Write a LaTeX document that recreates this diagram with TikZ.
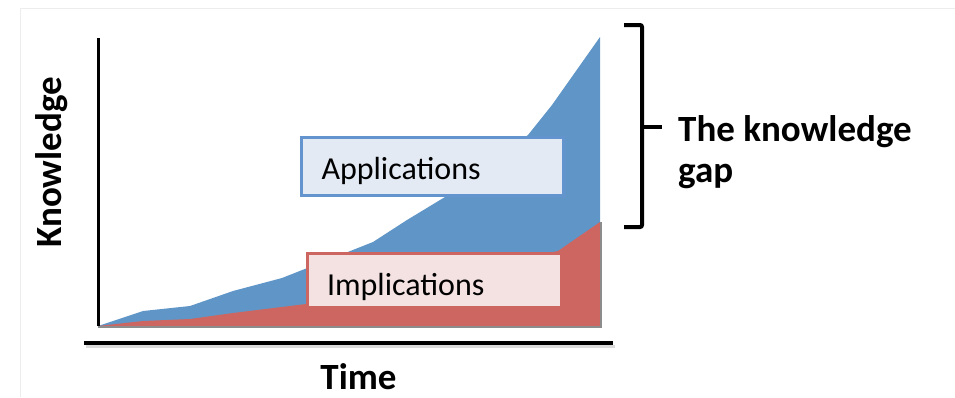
\documentclass[tikz,border=0pt]{standalone}
\usepackage{fontspec}
\setmainfont{Carlito}
\definecolor{appsblue}{RGB}{96,150,199}
\definecolor{appsborder}{RGB}{100,148,206}
\definecolor{appsfill}{RGB}{227,234,244}
\definecolor{implred}{RGB}{205,102,96}
\definecolor{implfill}{RGB}{244,226,226}
\tikzset{
	slideedge/.style={black!7,thin},%
	axisline/.style={line width=3pt},%
	xaxisline/.style={line width=4pt},%
	axisshadow/.style={black!14,line width=3pt},%
	areashadow/.style={black!45,line width=1.5pt},%
	appsarea/.style={fill=appsblue},%
	implarea/.style={fill=implred},%
	labelbox/.style={line width=3pt,align=left,inner ysep=0pt,text depth=6pt,font=\fontsize{32}{37}\selectfont},%
	appsbox/.style={labelbox,draw=appsborder,fill=appsfill,minimum width=262pt,minimum height=58pt,text width=222pt,inner xsep=20pt,text height=31pt},%
	implbox/.style={labelbox,draw=implred,fill=implfill,minimum width=254pt,minimum height=54pt,text width=215pt,inner xsep=19.5pt,text height=35pt},%
	axislabel/.style={inner sep=0pt,font=\fontsize{37}{41}\selectfont\bfseries},%
	gaplabel/.style={axislabel,align=left,anchor=north west},%
	gapbrace/.style={line width=4pt,rounded corners=2pt},%
}
\begin{document}
\begin{tikzpicture}[x=1pt,y=-1pt]
		\useasboundingbox (0,0) rectangle (955,397);
		\draw[slideedge] (20,397) -- (20,8) -- (955,8);
		% Areas {{{
		\fill[appsarea] (98,326) -- (143,311) -- (190,306) -- (233,291) -- (282,278) -- (373,242) -- (407,220) -- (445,197) -- (528,135) -- (552,105) -- (600,37) -- (600,326) -- cycle;
		\fill[implarea] (98,326) -- (143,321) -- (190,319) -- (233,313) -- (306,304) -- (558,251) -- (600,222) -- (600,326) -- cycle;
		\draw[areashadow] (98,327) -- (601,327) -- (601,222);
		% }}}
		% Boxes {{{
		\node[appsbox] (apps) at (432.5,166.5) {Applications};
		\node[implbox] (impl) at (434.5,280.5) {Implications};
		% }}}
		% Axes {{{
		\draw[axisline] (98,38) -- (98,326);
		\draw[axisshadow] (86,346.5) -- (615,346.5);
		\draw[xaxisline] (84,343) -- (613,343);
		\node[axislabel,rotate=90,anchor=base] (knowledge) at (61,162.5) {Knowledge};
		\node[axislabel,anchor=base] (time) at (358.5,389) {Time};
		% }}}
		% Gap {{{
		\coordinate (bracetop) at (624,25);
		\coordinate (bracebottom) at (624,227);
		\coordinate (bracetip) at (662,127);
		\draw[gapbrace] (bracetop) -- (642,25) -- (642,227) -- (bracebottom);
		\draw[gapbrace] (642,127) -- (bracetip);
		\node[gaplabel] (gap) at (678,115) {The knowledge\\gap};
		% }}}
	\end{tikzpicture}
\end{document}
